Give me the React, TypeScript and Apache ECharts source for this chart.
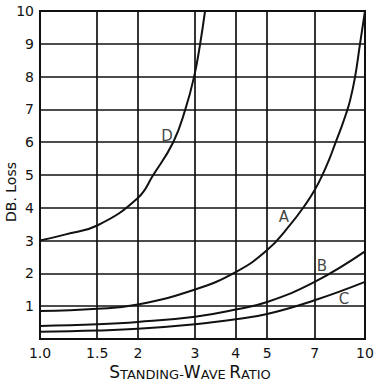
import React, { useEffect, useRef } from "react";
import * as echarts from "echarts";

const xTicks = [1, 1.5, 2, 3, 4, 5, 7, 10];
const yMin = 0;
const yMax = 10;

const dX = [1.0, 1.2, 1.5, 2.0, 2.23, 2.57, 2.8, 2.98, 3.11, 3.22];
const dY = [3.0, 3.19, 3.46, 4.3, 5.0, 6.0, 7.0, 8.0, 9.0, 10.0];

const aX = [1.0, 1.5, 2.0, 3.0, 4.0, 5.0, 5.88, 6.58, 7.0, 7.37, 7.75, 8.09, 8.44, 8.74, 8.99, 9.31, 9.65, 10];
const aY = [0.85, 0.92, 1.05, 1.51, 2.04, 2.71, 3.48, 4.12, 4.54, 4.97, 5.46, 5.95, 6.43, 6.86, 7.26, 7.96, 8.99, 10];

const bX = [1.0, 1.5, 2, 3, 4, 5, 7, 10];
const bY = [0.4, 0.45, 0.52, 0.68, 0.9, 1.13, 1.74, 2.67];

const cX = [1.0, 1.5, 2, 3, 4, 5, 7, 10];
const cY = [0.22, 0.26, 0.31, 0.45, 0.6, 0.76, 1.18, 1.74];

const curveNames = ["D", "A", "B", "C"];
const labelPos: [number, number][] = [
  [2.46, 6.2],
  [5.63, 3.72],
  [7.37, 2.22],
  [8.62, 1.22],
];

const FONT = "DejaVu Sans";

export default function App() {
  const ref = useRef<HTMLDivElement>(null);
  useEffect(() => {
    if (!ref.current) return;
    const chart = echarts.init(ref.current, null, { renderer: "svg" });
    const zip = (xs: number[], ys: number[]) => xs.map((x, i) => [x, ys[i]]);
    const curves = [zip(dX, dY), zip(aX, aY), zip(bX, bY), zip(cX, cY)];
    const lineSeries = curves.map((data, i) => ({
      type: "line",
      name: curveNames[i],
      data,
      smooth: 0.45,
      showSymbol: false,
      symbol: "none",
      lineStyle: { color: "#111", width: 2 },
      silent: true,
      z: 5,
    }));
    const labelSeries = {
      type: "scatter",
      data: labelPos.map((p, i) => ({ value: p, name: curveNames[i] })),
      symbolSize: 0,
      label: {
        show: true,
        position: "inside",
        formatter: (p: any) => p.name,
        fontFamily: FONT,
        fontSize: 15,
        color: "#111",
      },
      silent: true,
      z: 6,
    };
    chart.setOption({
      animation: false,
      backgroundColor: "#fff",
      grid: {
        left: 40,
        right: 13,
        top: 11,
        bottom: 43,
        show: true,
        borderColor: "#111",
        borderWidth: 2,
        backgroundColor: "transparent",
      },
      xAxis: {
        type: "log",
        logBase: 10,
        min: 1,
        max: 10,
        axisLine: { show: true, lineStyle: { color: "#111", width: 2 } },
        axisTick: { show: false, customValues: xTicks },
        axisLabel: {
          customValues: xTicks,
          formatter: (v: number) => (v === 1 ? "1.0" : String(v)),
          fontFamily: FONT,
          fontSize: 14,
          color: "#111",
          margin: 7,
        },
        splitLine: { show: true, lineStyle: { color: "#111", width: 1.7 } },
        minorTick: { show: false },
        minorSplitLine: { show: false },
      },
      yAxis: {
        type: "value",
        min: yMin,
        max: yMax,
        interval: 1,
        axisLine: { show: true, lineStyle: { color: "#111", width: 2 } },
        axisTick: { show: false },
        axisLabel: {
          formatter: (v: number) => (v === 0 ? "" : String(v)),
          fontFamily: FONT,
          fontSize: 14,
          color: "#111",
          margin: 6,
        },
        splitLine: { show: true, lineStyle: { color: "#111", width: 1.7 } },
      },
      graphic: [
        {
          type: "text",
          x: 11,
          y: 192,
          rotation: Math.PI / 2,
          style: {
            text: "DB. Loss",
            fontFamily: FONT,
            fontSize: 14,
            fill: "#111",
            align: "center",
            verticalAlign: "middle",
          },
        },
        {
          type: "text",
          x: 190,
          y: 372,
          style: {
            text: "{b|S}{s|TANDING-}{b|W}{s|AVE} {b|R}{s|ATIO}",
            align: "center",
            verticalAlign: "middle",
            fill: "#111",
            rich: {
              b: { fontFamily: FONT, fontSize: 17, fill: "#111", verticalAlign: "bottom" },
              s: { fontFamily: FONT, fontSize: 13, fill: "#111", verticalAlign: "bottom" },
            },
          },
        },
      ],
      series: [...lineSeries, labelSeries],
    });
    return () => chart.dispose();
  }, []);
  return (
    <div
      ref={ref}
      style={{ position: "absolute", left: 0, top: 0, width: 378, height: 382 }}
    />
  );
}
